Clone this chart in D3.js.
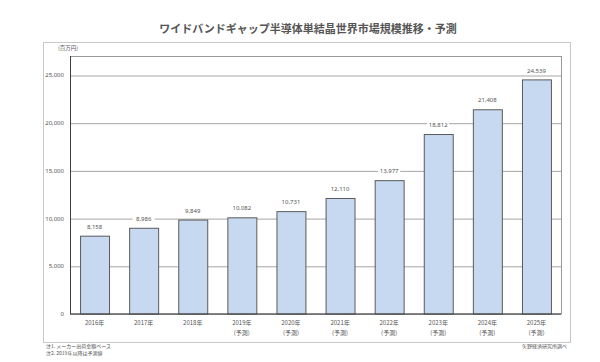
<!DOCTYPE html>
<html>
<head>
<meta charset="utf-8">
<script src="https://cdn.jsdelivr.net/npm/d3@7"></script>
<style>
  body { margin: 0; background: #fff; }
  text { font-family: "Noto Sans CJK JP", "Noto Sans", sans-serif; }
</style>
</head>
<body>
<div id="vis"></div>
<script>
var years = ["2016年", "2017年", "2018年", "2019年", "2020年", "2021年", "2022年", "2023年", "2024年", "2025年"];
var forecast = [false, false, false, true, true, true, true, true, true, true];
var values = [8158, 8986, 9849, 10082, 10731, 12110, 13977, 18812, 21408, 24539];
var y_ticks = [0, 5000, 10000, 15000, 20000, 25000];

var title = "ワイドバンドギャップ半導体単結晶世界市場規模推移・予測";
var unit_label = "(百万円)";
var notes = ["注1.  メーカー出荷金額ベース", "注2.  2019年以降は予測値"];
var source = "矢野経済研究所調べ";

var width = 600, height = 362;
var plot = {left: 70, right: 561, top: 56, bottom: 313.5};
var frame = {left: 43, right: 570, top: 42, bottom: 342};

var fmt = d3.format(",");

var svg = d3.select("#vis").append("svg")
  .attr("width", width)
  .attr("height", height);

var x_scale = d3.scaleBand()
  .domain(years)
  .range([plot.left, plot.right])
  .paddingInner(0.41)
  .paddingOuter(0.205);

var y_scale = d3.scaleLinear()
  .domain([0, 25000])
  .range([plot.bottom, 75]);

// title
svg.append("text")
  .attr("x", 308)
  .attr("y", 33)
  .attr("text-anchor", "middle")
  .attr("fill", "#555")
  .style("font-size", "11px")
  .style("font-weight", "bold")
  .text(title);

// outer frame
svg.append("rect")
  .attr("x", frame.left + 0.5)
  .attr("y", frame.top + 0.5)
  .attr("width", frame.right - frame.left)
  .attr("height", frame.bottom - frame.top)
  .attr("fill", "none")
  .attr("stroke", "#c8c8c8")
  .attr("stroke-width", 1);

// plot border
svg.append("rect")
  .attr("x", plot.left + 0.5)
  .attr("y", plot.top + 0.5)
  .attr("width", plot.right - plot.left)
  .attr("height", plot.bottom - plot.top)
  .attr("fill", "none")
  .attr("stroke", "#9a9a9a")
  .attr("stroke-width", 1);

// gridlines + y labels
var y_axis = svg.append("g")
  .attr("transform", "translate(" + plot.left + ",0)")
  .call(d3.axisLeft(y_scale)
    .tickValues(y_ticks)
    .tickSize(-(plot.right - plot.left))
    .tickPadding(6)
    .tickFormat(fmt));
y_axis.select(".domain").remove();
y_axis.selectAll(".tick line")
  .attr("stroke", "#a6a6a6")
  .attr("transform", "translate(0,0.5)");
y_axis.selectAll(".tick text")
  .attr("fill", "#555")
  .style("font-size", "6px")
  .style("font-family", "\"Noto Sans\", sans-serif");

svg.append("text")
  .attr("x", 58)
  .attr("y", 50)
  .attr("fill", "#555")
  .style("font-size", "5.5px")
  .text(unit_label);

// bars
svg.selectAll(".bar")
  .data(values)
  .enter()
  .append("rect")
  .attr("class", "bar")
  .attr("x", (d, i) => x_scale(years[i]) + 0.5)
  .attr("y", d => y_scale(d) + 0.5)
  .attr("width", x_scale.bandwidth())
  .attr("height", d => y_scale(0) - y_scale(d))
  .attr("fill", "#c6d9f1")
  .attr("stroke", "#5a5a5a")
  .attr("stroke-width", 1);

// value labels with white backing
var labels = svg.selectAll(".value-label")
  .data(values)
  .enter()
  .append("g")
  .attr("class", "value-label")
  .attr("transform", (d, i) => "translate(" + (x_scale(years[i]) + x_scale.bandwidth() / 2) + "," + (y_scale(d) - 9) + ")");
labels.append("rect")
  .attr("x", -11)
  .attr("y", -4)
  .attr("width", 22)
  .attr("height", 8)
  .attr("fill", "#fff");
labels.append("text")
  .attr("text-anchor", "middle")
  .attr("dy", "0.35em")
  .attr("fill", "#555")
  .style("font-size", "6px")
  .style("font-family", "\"Noto Sans\", sans-serif")
  .text(d => fmt(d));

// axes lines (dark)
svg.append("line")
  .attr("x1", plot.left + 0.5).attr("x2", plot.left + 0.5)
  .attr("y1", plot.top).attr("y2", plot.bottom + 0.5)
  .attr("stroke", "#404040");
svg.append("line")
  .attr("x1", plot.left).attr("x2", plot.right)
  .attr("y1", plot.bottom + 0.5).attr("y2", plot.bottom + 0.5)
  .attr("stroke", "#404040");

// category labels
var cats = svg.selectAll(".cat")
  .data(years)
  .enter()
  .append("g")
  .attr("class", "cat")
  .attr("transform", d => "translate(" + (x_scale(d) + x_scale.bandwidth() / 2) + ",0)");
cats.append("text")
  .attr("y", 325)
  .attr("text-anchor", "middle")
  .attr("fill", "#555")
  .style("font-size", "6px")
  .text(d => d);
cats.filter((d, i) => forecast[i])
  .append("text")
  .attr("y", 335)
  .attr("text-anchor", "middle")
  .attr("fill", "#555")
  .style("font-size", "6px")
  .text("(予測)");

// notes and source
svg.selectAll(".note")
  .data(notes)
  .enter()
  .append("text")
  .attr("class", "note")
  .attr("x", 46)
  .attr("y", (d, i) => 348 + i * 6.5)
  .attr("fill", "#555")
  .style("font-size", "5px")
  .text(d => d);

svg.append("text")
  .attr("x", 567)
  .attr("y", 348)
  .attr("text-anchor", "end")
  .attr("fill", "#555")
  .style("font-size", "5px")
  .text(source);
</script>
</body>
</html>
